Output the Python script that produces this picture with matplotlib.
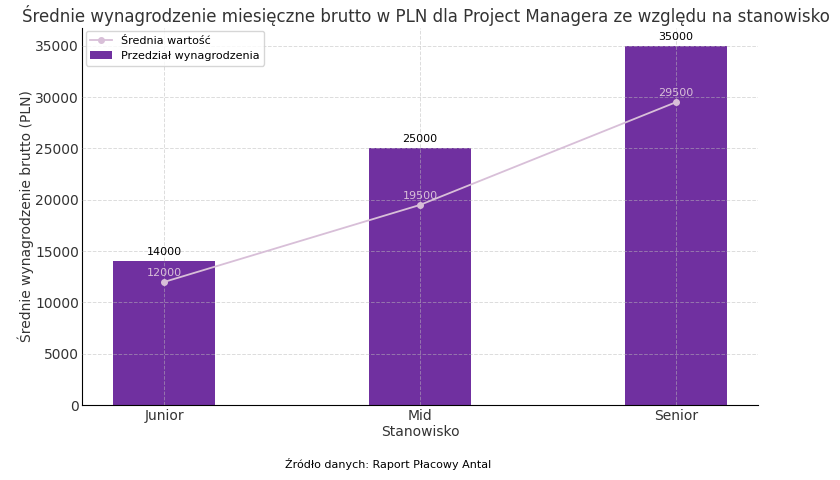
import matplotlib.pyplot as plt
import numpy as np

stanowiska = ['Junior', 'Mid', 'Senior']
max_wyn = [14000, 25000, 35000]
srednia = [12000, 19500, 29500]

bar_color = '#7030a0'
line_color = '#d8bfd8'

fig = plt.figure(figsize=(8.4, 4.8), dpi=100)
ax = fig.add_axes([0.098, 0.156, 0.804, 0.786])
x = np.arange(len(stanowiska))

ax.bar(x, max_wyn, width=0.4, color=bar_color, label='Przedział wynagrodzenia', zorder=1)
ax.plot(x, srednia, color=line_color, marker='o', markersize=4, linewidth=1.3,
        label='Średnia wartość', zorder=3)

for xi, v in zip(x, max_wyn):
    ax.text(xi, v + 400, str(v), ha='center', va='bottom', fontsize=8, color='black')
for xi, v in zip(x, srednia):
    ax.text(xi, v + 400, str(v), ha='center', va='bottom', fontsize=8, color=line_color)

ax.set_xticks(x)
ax.set_xticklabels(stanowiska, fontsize=10)
ax.tick_params(axis='both', length=0, labelsize=10, labelcolor='#333333', pad=2.5)
ax.set_xlabel('Stanowisko', fontsize=10, color='#333333', labelpad=2)
ax.set_ylabel('Średnie wynagrodzenie brutto (PLN)', fontsize=10, color='#333333', labelpad=1)
fig.suptitle('Średnie wynagrodzenie miesięczne brutto w PLN dla Project Managera ze względu na stanowisko',
             x=0.507, y=0.99, fontsize=12, color='#333333')
ax.grid(True, linestyle='--', color='#bbbbbb', alpha=0.5, linewidth=0.7, zorder=2)
ax.set_axisbelow(False)
for s in ['top', 'right']:
    ax.spines[s].set_visible(False)
ax.legend(loc='upper left', fontsize=8, borderaxespad=0.3)

fig.text(0.462, 0.025, 'Źródło danych: Raport Płacowy Antal', ha='center', fontsize=8)

plt.savefig('out.png', dpi=100)
